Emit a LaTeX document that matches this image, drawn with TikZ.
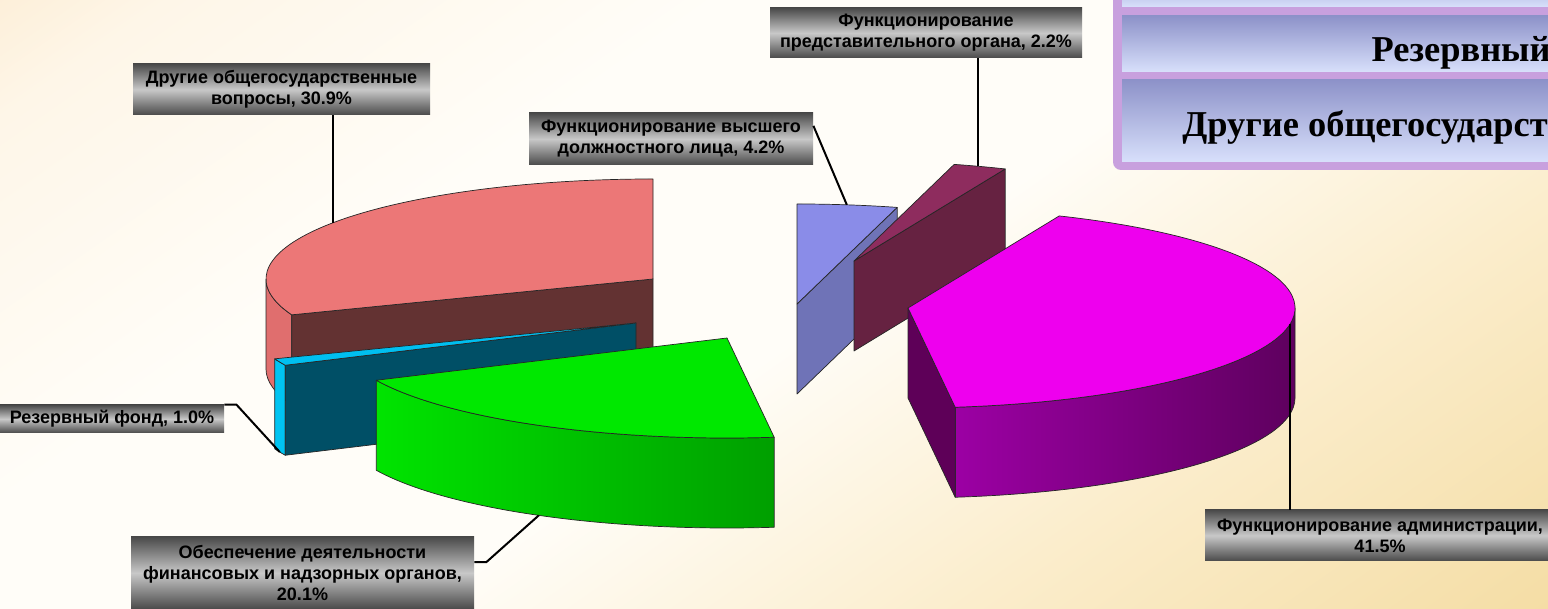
\documentclass[tikz,border=0pt]{standalone}
\usepackage{fontspec}
\setmainfont{Liberation Sans}
\newfontfamily\legfont{Liberation Serif}
\usetikzlibrary{calc}
\definecolor{bgA}{HTML}{FCEBD0}
\definecolor{bgA2}{HTML}{FEF6E8}
\definecolor{bgB}{HTML}{FFFDF8}
\definecolor{bgC2}{HTML}{FBEDCC}
\definecolor{bgC}{HTML}{F4DCA2}
\definecolor{legframe}{HTML}{C8A0DE}
\definecolor{barD}{HTML}{8D92C9}
\definecolor{barL}{HTML}{D8E0FB}
\definecolor{lblD}{HTML}{4A4A4A}
\definecolor{lblL}{HTML}{C8C8C8}
\definecolor{redTop}{HTML}{EC7777}
\definecolor{redSide}{HTML}{E06E6E}
\definecolor{redFace}{HTML}{633232}
\definecolor{cyTop}{HTML}{00BFF0}
\definecolor{cySide}{HTML}{00C4F2}
\definecolor{cyFace}{HTML}{004F66}
\definecolor{grTop}{HTML}{00E800}
\definecolor{grSideA}{HTML}{00E400}
\definecolor{grSideB}{HTML}{009F00}
\definecolor{lvTop}{HTML}{8A8CE8}
\definecolor{lvFace}{HTML}{6F73B7}
\definecolor{mrTop}{HTML}{8E2C5E}
\definecolor{mrFace}{HTML}{662241}
\definecolor{mgTop}{HTML}{EE00EE}
\definecolor{mgSideA}{HTML}{9C00A4}
\definecolor{mgSideB}{HTML}{5E005E}
\definecolor{mgFace}{HTML}{5E0058}
\pgfdeclareverticalshading{bgshade}{100bp}{color(0bp)=(bgC); color(14bp)=(bgC); color(32bp)=(bgC2);
  color(48bp)=(bgB); color(64bp)=(bgB); color(80bp)=(bgA2); color(88bp)=(bgA); color(100bp)=(bgA)}
\tikzset{
  ell/.style={x radius=193.5pt, y radius=50pt},
  edge/.style={draw=black!85, line width=0.35pt, line join=round},
  lbl/.style={inner sep=0pt, align=center, font=\fontsize{9}{10.5}\selectfont\bfseries,
    top color=lblD, bottom color=lblD, middle color=lblL},
  leader/.style={draw=black, line width=1pt},
  legtext/.style={inner sep=0pt, font=\legfont\fontsize{18.2}{21}\selectfont\bfseries}
}
\begin{document}
\begin{tikzpicture}[x=0.5pt,y=0.5pt]
\useasboundingbox (0,0) rectangle (1548,609);
\clip (0,0) rectangle (1548,609);
% background
\shade[shading=bgshade, shading angle=35] (0,0) rectangle (1548,609);

% legend (partly visible)
\fill[legframe, rounded corners=4pt] (1113,439) rectangle (1580,640);
\shade[top color=barD, bottom color=barL] (1122,602) rectangle (1580,640);
\shade[top color=barD, bottom color=barL] (1122,537) rectangle (1580,593);
\shade[top color=barD, bottom color=barL] (1122,447) rectangle (1580,529);
\node[legtext, anchor=base east] (legR) at (1551,547) {Резервный};
\node[legtext, anchor=base west] (legD) at (1182,472) {Другие общегосударст};

% slice centres
\coordinate (cR) at (653,330);
\coordinate (cC) at (636,286);
\coordinate (cF) at (727,271);
\coordinate (cL) at (797,305);
\coordinate (cM) at (854,348);
\coordinate (cA) at (908,301);

% ---- red slice (90..201)
\coordinate (R90) at ($(cR)+(90:193.5pt and 50pt)$);
\coordinate (R180) at ($(cR)+(180:193.5pt and 50pt)$);
\coordinate (R201) at ($(cR)+(201:193.5pt and 50pt)$);
\path[edge, fill=redSide] (R180) arc[ell, start angle=180, end angle=201] -- ++(0,-90)
  arc[ell, start angle=201, end angle=180] -- cycle;
\path[edge, fill=redFace] (cR) -- (R201) -- ++(0,-90) -- ($(cR)+(0,-90)$) -- cycle;
\path[edge, fill=redTop] (cR) -- (R90) arc[ell, start angle=90, end angle=201] -- cycle;

% ---- cyan slice (201..205)
\coordinate (C201) at ($(cC)+(201:193.5pt and 50pt)$);
\coordinate (C205) at ($(cC)+(205:193.5pt and 50pt)$);
\path[edge, fill=cySide] (C201) arc[ell, start angle=201, end angle=205] -- ++(0,-90)
  arc[ell, start angle=205, end angle=201] -- cycle;
\path[edge, fill=cyFace] (cC) -- (C205) -- ++(0,-90) -- ($(cC)+(0,-90)$) -- cycle;
\path[edge, fill=cyTop] (cC) -- (C201) arc[ell, start angle=201, end angle=205] -- cycle;

% ---- green slice (205..277)
\coordinate (F205) at ($(cF)+(205:193.5pt and 50pt)$);
\path[edge, left color=grSideA, right color=grSideB] (F205) arc[ell, start angle=205, end angle=277] -- ++(0,-90)
  arc[ell, start angle=277, end angle=205] -- cycle;
\path[edge, fill=grTop] (cF) -- (F205) arc[ell, start angle=205, end angle=277] -- cycle;

% ---- lavender slice (75..90)
\coordinate (L75) at ($(cL)+(75:193.5pt and 50pt)$);
\path[edge, fill=lvFace] (cL) -- (L75) -- ++(0,-90) -- ($(cL)+(0,-90)$) -- cycle;
\path[edge, fill=lvTop] (cL) -- (L75) arc[ell, start angle=75, end angle=90] -- cycle;

% ---- maroon slice (67..75)
\coordinate (M67) at ($(cM)+(67:193.5pt and 50pt)$);
\path[edge, fill=mrFace] (cM) -- (M67) -- ++(0,-90) -- ($(cM)+(0,-90)$) -- cycle;
\path[edge, fill=mrTop] (cM) -- (M67) arc[ell, start angle=67, end angle=75] -- cycle;

% ---- magenta slice (-83..67)
\coordinate (Am83) at ($(cA)+(-83:193.5pt and 50pt)$);
\path[edge, left color=mgSideA, right color=mgSideB] (Am83) arc[ell, start angle=-83, end angle=0] -- ++(0,-90)
  arc[ell, start angle=0, end angle=-83] -- cycle;
\path[edge, fill=mgFace] (cA) -- (Am83) -- ++(0,-90) -- ($(cA)+(0,-90)$) -- cycle;
\path[edge, fill=mgTop] (cA) -- (Am83) arc[ell, start angle=-83, end angle=67] -- cycle;

% leader end points
\coordinate (pR) at ($(cR)+(145.8:193.5pt and 50pt)$);
\coordinate (pL) at ($(cL)+(82.6:193.5pt and 50pt)$);
\coordinate (pM) at ($(cM)+(71.3:193.5pt and 50pt)$);
\coordinate (pA) at ($(cA)+(-9.3:193.5pt and 50pt)$);
\coordinate (pC) at ($(cC)+(203:193.5pt and 50pt)+(0,-90)$);
\coordinate (pF) at ($(cF)+(240.9:193.5pt and 50pt)+(0,-90)$);

% labels
\node[lbl, minimum width=148.5pt, minimum height=25.5pt] (lblR) at (281.5,519.5)
  {Другие общегосударственные\\вопросы, 30.9\%};
\node[lbl, minimum width=142pt, minimum height=26pt] (lblL) at (671,470)
  {Функционирование высшего\\должностного лица, 4.2\%};
\node[lbl, minimum width=156pt, minimum height=25pt] (lblM) at (926,576)
  {Функционирование\\представительного органа, 2.2\%};
\node[lbl, minimum width=175pt, minimum height=25.5pt] (lblA) at (1380,73.5)
  {Функционирование администрации,\\41.5\%};
\node[lbl, minimum width=112pt, minimum height=14pt] (lblC) at (112,190)
  {Резервный фонд, 1.0\%};
\node[lbl, minimum width=171.5pt, minimum height=36pt] (lblF) at (302.5,36)
  {Обеспечение деятельности\\финансовых и надзорных органов,\\20.1\%};

% leaders
\draw[leader] (pR |- lblR.south) -- (pR);
\draw[leader] ($(lblL.north east)!0.25!(lblL.south east)$) -- (pL);
\draw[leader] (pM |- lblM.south) -- (pM);
\draw[leader] (pA) -- (pA |- lblA.north);
\draw[leader] (lblC.north east) -- ++(12,0) -- (pC);
\draw[leader] ($(lblF.north east)!0.35!(lblF.south east)$) -- ++(12,0) -- (pF);
\end{tikzpicture}
\end{document}
